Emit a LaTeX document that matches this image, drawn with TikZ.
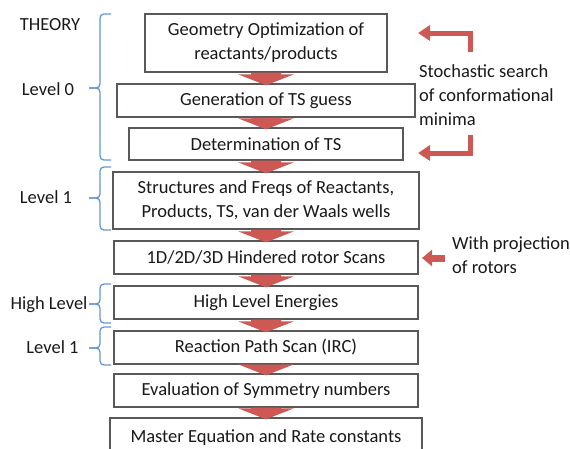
\documentclass[tikz,border=0pt]{standalone}
\usepackage{fontspec}
\setmainfont{Carlito}
\usetikzlibrary{arrows.meta,positioning,calc}
\definecolor{arrred}{RGB}{205,88,84}
\definecolor{brblue}{RGB}{100,150,210}
\definecolor{ink}{RGB}{25,25,25}

\begin{document}
\begin{tikzpicture}[x=1pt,y=-1pt,font=\fontsize{18.5}{24}\selectfont,text=ink]
	\tikzstyle{stage}=[draw=black!65,line width=1.4pt,fill=white,align=center,inner sep=0pt,minimum height=33pt];
	\tikzstyle{flow}=[fill=arrred,to path={($(\tikztostart.south)+(-15,0)$) -- ($(\tikztostart.south)+(15,0)$) -- ($(\tikztotarget.north)+(15,-9)$) -- ($(\tikztotarget.north)+(28,-9)$) -- ($(\tikztotarget.north)+(0,2)$) -- ($(\tikztotarget.north)+(-28,-9)$) -- ($(\tikztotarget.north)+(-15,-9)$) -- cycle}];
	\tikzstyle{elbow}=[arrred,line width=5pt,-{Triangle[width=15pt,length=12pt]}];
	\tikzstyle{side}=[arrred,line width=7pt,-{Triangle[width=16pt,length=10pt]}];
	\tikzstyle{lvl}=[brblue,line width=1.3pt,rounded corners=4pt];
	\tikzstyle{tag}=[inner sep=0pt,anchor=base];
	\useasboundingbox (0,0) rectangle (570,448);
	%% stages
	\node[stage,minimum width=242pt,minimum height=58pt] (geo)    at (266,43)    {Geometry Optimization of\\reactants/products};
	\node[stage,minimum width=298pt]                     (guess)  at (266,100.5) {Generation of TS guess};
	\node[stage,minimum width=274pt,minimum height=32pt] (ts)     at (266,144)   {Determination of TS};
	\node[stage,minimum width=306pt,minimum height=57pt] (freq)   at (266,200.5) {Structures and Freqs of Reactants,\\Products, TS, van der Waals wells};
	\node[stage,minimum width=304pt]                     (rotor)  at (266,257.5) {1D/2D/3D Hindered rotor Scans};
	\node[stage,minimum width=304pt]                     (high)   at (266,302.5) {High Level Energies};
	\node[stage,minimum width=304pt]                     (irc)    at (266,347.5) {Reaction Path Scan (IRC)};
	\node[stage,minimum width=304pt]                     (sym)    at (266,390.5) {Evaluation of Symmetry numbers};
	\node[stage,minimum width=312pt,minimum height=40pt] (master) at (266,438)   {Master Equation and Rate constants};
	%% flow
	\path[flow] (geo)   to (guess);
	\path[flow] (guess) to (ts);
	\path[flow] (ts)    to (freq);
	\path[flow] (freq)  to (rotor);
	\path[flow] (rotor) to (high);
	\path[flow] (high)  to (irc);
	\path[flow] (irc)   to (sym);
	\path[flow] (sym)   to (master);
	%% theory levels
	\node[tag] (theory) at (50,30) {THEORY};
	\draw[lvl] (111,14)  -- (100,14)  -- (100,88)  -- (89,88);
	\draw[lvl] (89,88)   -- (100,88)  -- (100,160) -- (111,160);
	\draw[lvl] (111,167) -- (100,167) -- (100,198) -- (89,198);
	\draw[lvl] (89,198)  -- (100,198) -- (100,230) -- (111,230);
	\draw[lvl] (111,284) -- (100,284) -- (100,304) -- (89,304);
	\draw[lvl] (89,304)  -- (100,304) -- (100,323) -- (111,323);
	\draw[lvl] (111,327) -- (100,327) -- (100,348) -- (89,348);
	\draw[lvl] (89,348)  -- (100,348) -- (100,365) -- (111,365);
	\node[tag] (lv0)  at (48,95)    {Level 0};
	\node[tag] (lv1)  at (46,203)   {Level 1};
	\node[tag] (lvh)  at (49,309)   {High Level};
	\node[tag] (lv1b) at (52.5,353) {Level 1};
	%% notes
	\node[inner sep=0pt,anchor=west,align=left] (stoch) at (419,95)    {Stochastic search\\of conformational\\minima};
	\node[inner sep=0pt,anchor=west,align=left] (proj)  at (452,255.5) {With projection\\of rotors};
	\coordinate (s0) at (470,52);  \coordinate (s1) at (418,33);
	\coordinate (s2) at (470,135); \coordinate (s3) at (418,153);
	\coordinate (p0) at (445,258); \coordinate (p1) at (422,258);
	\draw[elbow] (s0) |- (s1);
	\draw[elbow] (s2) |- (s3);
	\draw[side]  (p0) -- (p1);
\end{tikzpicture}
\end{document}
